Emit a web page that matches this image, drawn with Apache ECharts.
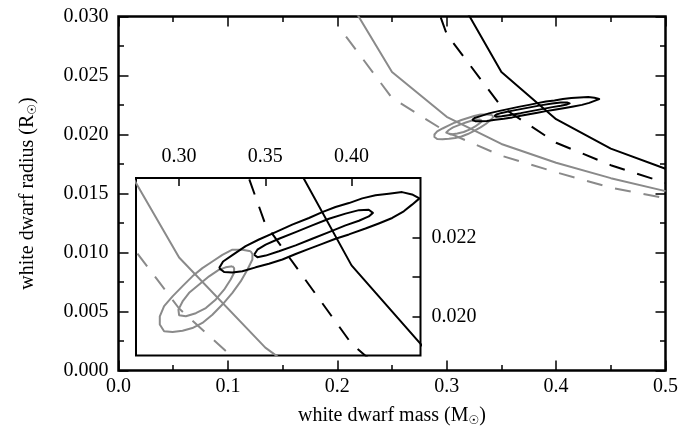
<!DOCTYPE html>
<html>
<head>
<meta charset="utf-8">
<script src="https://cdn.jsdelivr.net/npm/echarts@6/dist/echarts.min.js"></script>
<style>
html,body{margin:0;padding:0;background:#fff;}
#chart{width:682px;height:437px;}
</style>
</head>
<body>
<div id="chart"></div>
<script>
// ---- data (mass in Msun, radius in Rsun) ----
const blackSolid = [[0.30,0.0334],[0.35,0.0253],[0.40,0.0213],[0.45,0.0188],[0.50,0.0171]];
const blackDashed = [[0.25,0.0415],[0.30,0.0285],[0.35,0.02235],[0.40,0.0193],[0.45,0.0174],[0.50,0.0159]];
const graySolid = [[0.20,0.0330],[0.25,0.0253],[0.30,0.0215],[0.35,0.0192],[0.40,0.0176],[0.45,0.0163],[0.50,0.0152]];
const grayDashed = [[0.208,0.0283],[0.25,0.0231],[0.30,0.0202],[0.35,0.0182],[0.40,0.0168],[0.45,0.0155],[0.50,0.0146]];

const blackOuter = [[0.3232,0.02123],[0.3255,0.02140],[0.3309,0.02156],[0.3386,0.02179],[0.3463,0.02196],[0.3560,0.02215],[0.3656,0.02234],[0.3753,0.02251],[0.3830,0.02266],[0.3907,0.02279],[0.3985,0.02289],[0.4062,0.02301],[0.4139,0.02309],[0.4216,0.02313],[0.4293,0.02317],[0.4351,0.02311],[0.4394,0.02301],[0.4351,0.02285],[0.4303,0.02268],[0.4236,0.02251],[0.4158,0.02237],[0.4081,0.02224],[0.3985,0.02209],[0.3907,0.02198],[0.3830,0.02185],[0.3753,0.02172],[0.3676,0.02159],[0.3599,0.02145],[0.3521,0.02134],[0.3444,0.02125],[0.3367,0.02115],[0.3309,0.02112],[0.3261,0.02113],[0.3232,0.02123]];
const blackInner = [[0.3435,0.02157],[0.3454,0.02170],[0.3502,0.02183],[0.3579,0.02198],[0.3676,0.02215],[0.3772,0.02232],[0.3869,0.02249],[0.3965,0.02262],[0.4043,0.02271],[0.4100,0.02272],[0.4124,0.02264],[0.4100,0.02255],[0.4043,0.02244],[0.3965,0.02232],[0.3869,0.02215],[0.3772,0.02198],[0.3676,0.02181],[0.3579,0.02166],[0.3502,0.02155],[0.3454,0.02151],[0.3435,0.02157]];
const grayOuter = [[0.3415,0.02166],[0.3367,0.02170],[0.3309,0.02170],[0.3251,0.02157],[0.3193,0.02140],[0.3135,0.02123],[0.3077,0.02102],[0.3020,0.02077],[0.2962,0.02051],[0.2913,0.02026],[0.2888,0.02000],[0.2888,0.01979],[0.2913,0.01962],[0.2962,0.01960],[0.3020,0.01963],[0.3077,0.01970],[0.3135,0.01983],[0.3193,0.02004],[0.3251,0.02030],[0.3309,0.02060],[0.3357,0.02089],[0.3396,0.02119],[0.3425,0.02145],[0.3425,0.02159],[0.3415,0.02166]];
const grayInner = [[0.3309,0.02128],[0.3270,0.02125],[0.3232,0.02119],[0.3174,0.02102],[0.3116,0.02081],[0.3058,0.02060],[0.3020,0.02038],[0.2996,0.02017],[0.3000,0.02003],[0.3039,0.02000],[0.3097,0.02008],[0.3155,0.02021],[0.3213,0.02043],[0.3261,0.02068],[0.3299,0.02094],[0.3319,0.02111],[0.3319,0.02123],[0.3309,0.02128]];

const insetXTicks = [0.30, 0.35, 0.40];
const insetYTicks = [0.020, 0.021, 0.022];
const insetYLabels = [0.020, 0.022];

const FONT = 'Liberation Serif';
const BLACK = '#000000';
const GRAY = '#8a8a8a';
const DASH = [16, 13];

const chart = echarts.init(document.getElementById('chart'), null, {renderer: 'canvas'});

function curveSeries(data, color, dashed, gi, z) {
  return {
    type: 'line', data: data, xAxisIndex: gi, yAxisIndex: gi,
    showSymbol: false, symbol: 'none', smooth: false, silent: true, z: z,
    lineStyle: {color: color, width: 2, type: dashed ? DASH : 'solid', cap: 'butt', join: 'round'},
    animation: false
  };
}
function allSeries(gi, z) {
  return [
    curveSeries(blackSolid, BLACK, false, gi, z),
    curveSeries(blackDashed, BLACK, true, gi, z),
    curveSeries(graySolid, GRAY, false, gi, z),
    curveSeries(grayDashed, GRAY, true, gi, z),
    curveSeries(grayOuter, GRAY, false, gi, z),
    curveSeries(grayInner, GRAY, false, gi, z),
    curveSeries(blackOuter, BLACK, false, gi, z),
    curveSeries(blackInner, BLACK, false, gi, z)
  ];
}

const labelStyle = {fontFamily: FONT, fontSize: 20, color: BLACK};
const nameRich = {s: {fontFamily: 'DejaVu Sans', fontSize: 12, color: BLACK, padding: [10, 0, 0, 0]}};
const hiddenLine = {show: false, onZero: false};
const mainTick = {show: true, inside: true, length: 10, lineStyle: {color: BLACK, width: 1.5}};
const mainMinor = {show: true, splitNumber: 2, length: 5.5, lineStyle: {color: BLACK, width: 1.5}};

const option = {
  animation: false,
  backgroundColor: '#ffffff',
  grid: [
    {left: 118.5, top: 16.5, width: 547, height: 354, show: true, borderColor: BLACK, borderWidth: 2.5, backgroundColor: 'transparent', z: 0},
    {left: 136, top: 178, width: 284.5, height: 177.5, show: true, borderColor: BLACK, borderWidth: 2, backgroundColor: '#ffffff', z: 5}
  ],
  xAxis: [
    {gridIndex: 0, type: 'value', min: 0, max: 0.5, interval: 0.1, position: 'bottom',
     axisLine: hiddenLine, splitLine: {show: false},
     axisTick: mainTick, minorTick: mainMinor,
     axisLabel: Object.assign({margin: 6, formatter: v => v.toFixed(1)}, labelStyle),
     name: 'white dwarf mass (M{s|☉})', nameLocation: 'middle', nameGap: 34,
     nameTextStyle: Object.assign({rich: nameRich}, labelStyle)},
    {gridIndex: 1, type: 'value', min: 0.275, max: 0.44, position: 'top', z: 10,
     axisLine: hiddenLine, splitLine: {show: false},
     axisTick: {show: true, inside: true, length: 8, customValues: insetXTicks, lineStyle: {color: BLACK, width: 1.5}},
     axisLabel: Object.assign({margin: 11, customValues: insetXTicks, formatter: v => v.toFixed(2)}, labelStyle)},
    {gridIndex: 0, type: 'value', min: 0, max: 0.5, interval: 0.1, position: 'top',
     axisLine: hiddenLine, splitLine: {show: false},
     axisTick: mainTick, minorTick: mainMinor,
     axisLabel: {show: false}}
  ],
  yAxis: [
    {gridIndex: 0, type: 'value', min: 0, max: 0.03, interval: 0.005, position: 'left',
     axisLine: hiddenLine, splitLine: {show: false},
     axisTick: mainTick, minorTick: mainMinor,
     axisLabel: Object.assign({margin: 10, formatter: v => v.toFixed(3)}, labelStyle),
     name: 'white dwarf radius (R{s|☉})', nameLocation: 'middle', nameGap: 80, nameRotate: 90,
     nameTextStyle: Object.assign({rich: nameRich}, labelStyle)},
    {gridIndex: 1, type: 'value', min: 0.019, max: 0.02353, position: 'right', z: 10,
     axisLine: hiddenLine, splitLine: {show: false},
     axisTick: {show: true, inside: true, length: 8, customValues: insetYTicks, lineStyle: {color: BLACK, width: 1.5}},
     axisLabel: Object.assign({margin: 11, customValues: insetYLabels, formatter: v => v.toFixed(3)}, labelStyle)},
    {gridIndex: 0, type: 'value', min: 0, max: 0.03, interval: 0.005, position: 'right',
     axisLine: hiddenLine, splitLine: {show: false},
     axisTick: mainTick, minorTick: mainMinor,
     axisLabel: {show: false}}
  ],
  series: allSeries(0, 1).concat(allSeries(1, 10))
};
chart.setOption(option);
</script>
</body>
</html>
